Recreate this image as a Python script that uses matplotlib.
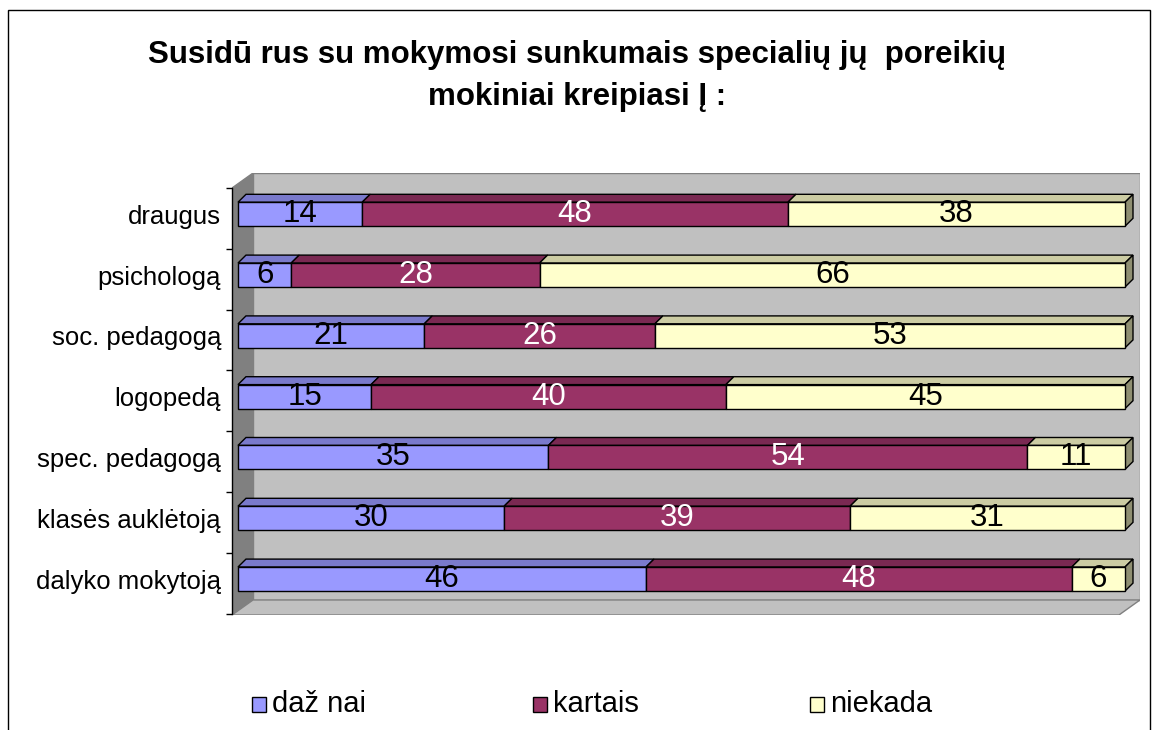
#stacked 3D-style bar chart: who pupils with learning difficulties turn to

#import libraries
import numpy as np
import matplotlib
matplotlib.use("Agg")
import matplotlib.pyplot as plt
from matplotlib.patches import Polygon, Rectangle

#data
categories = ["dalyko mokytoją", "klasės auklėtoją", "spec. pedagogą", "logopedą",
              "soc. pedagogą", "psichologą", "draugus"]
daznai = [46, 30, 35, 15, 21, 6, 14]
kartais = [48, 39, 54, 40, 26, 28, 48]
niekada = [6, 31, 11, 45, 53, 66, 38]
series_names = ["daž nai", "kartais", "niekada"]
title = "Susidū rus su mokymosi sunkumais specialių jų  poreikių\nmokiniai kreipiasi Į :"

front_colors = ["#9999FF", "#993366", "#FFFFCC"]
top_colors = ["#7A7ACC", "#7A2952", "#CCCCA3"]
side_colors = ["#5C5C99", "#5C1F3D", "#8F8F72"]
text_colors = ["black", "white", "black"]

plt.rcParams["font.family"] = ["Liberation Sans", "DejaVu Sans"]

W, H = 1155, 730
fig = plt.figure(figsize=(W / 100, H / 100), dpi=100)

#frame around the picture
fig.patches.append(Rectangle((8 / W, -0.1), 1142 / W, 1.1 - 10 / H, transform=fig.transFigure,
                             fill=False, edgecolor="black", linewidth=1))

ax = fig.add_axes([232 / W, (H - 615) / H, 908 / W, 442 / H])
xmin, xmax = -0.676, 101.69
ymin, ymax = -0.592, 6.678
ax.set_xlim(xmin, xmax)
ax.set_ylim(ymin, ymax)

#3D depth of the walls and of the bars (data units)
wdx, wdy = 2.37, 0.247
bdx, bdy = 0.9, 0.13
bh = 0.395

#walls and floor
wall_c = "#C0C0C0"
ax.add_patch(Polygon([(xmin + wdx, ymin + wdy), (xmax, ymin + wdy), (xmax, ymax), (xmin + wdx, ymax)],
                     closed=True, facecolor=wall_c, edgecolor="#808080", linewidth=1, zorder=0))
ax.add_patch(Polygon([(xmin, ymin), (xmin + wdx, ymin + wdy), (xmin + wdx, ymax), (xmin, ymax - wdy)],
                     closed=True, facecolor="#808080", edgecolor="#808080", linewidth=1, zorder=0))
ax.add_patch(Polygon([(xmin, ymin), (xmin + wdx, ymin + wdy), (xmax, ymin + wdy), (xmax - wdx, ymin)],
                     closed=True, facecolor=wall_c, edgecolor="#808080", linewidth=1, zorder=0))

#bars
y = np.arange(len(categories))
left = np.zeros(len(categories))
all_series = [daznai, kartais, niekada]
for k, vals in enumerate(all_series):
    vals = np.array(vals, dtype=float)
    ax.barh(y, vals, height=bh, left=left, color=front_colors[k],
            edgecolor="black", linewidth=1, zorder=3, label=series_names[k])
    for yi, l, v in zip(y, left, vals):
        top = yi + bh / 2
        ax.add_patch(Polygon([(l, top), (l + bdx, top + bdy), (l + v + bdx, top + bdy), (l + v, top)],
                             closed=True, facecolor=top_colors[k], edgecolor="black",
                             linewidth=1, zorder=2))
        if k == len(all_series) - 1:
            r = l + v
            ax.add_patch(Polygon([(r, yi - bh / 2), (r + bdx, yi - bh / 2 + bdy), (r + bdx, top + bdy), (r, top)],
                                 closed=True, facecolor=side_colors[k], edgecolor="black",
                                 linewidth=1, zorder=2))
        ax.text(l + v / 2, yi, str(int(v)), ha="center", va="center",
                fontsize=22.5, color=text_colors[k], zorder=4)
    left = left + vals

#axis
for s in ["top", "right", "bottom"]:
    ax.spines[s].set_visible(False)
ax.spines["left"].set_bounds(ymin + 0.02, ymax - wdy)
ax.spines["left"].set_linewidth(1)
ax.set_xticks([])
ax.set_yticks(y)
ax.set_yticklabels(categories, fontsize=18.5)
ax.tick_params(axis="y", which="major", length=0, pad=8)
ax.set_yticks(np.arange(len(categories) + 1) - 0.57, minor=True)
ax.tick_params(axis="y", which="minor", length=4.5, width=1, direction="out")
ax.patch.set_visible(False)

#title
fig.text(0.5, (H - 76) / H, title, ha="center", va="center", fontsize=22.5,
         fontweight="bold", linespacing=1.5)

#legend
leg_x = [252, 533, 810]
for hx, c, name in zip(leg_x, front_colors, series_names):
    fig.patches.append(Rectangle((hx / W, (H - 712) / H), 14 / W, 15 / H, transform=fig.transFigure,
                                 facecolor=c, edgecolor="black", linewidth=1))
    fig.text((hx + 20) / W, (H - 704) / H, name, ha="left", va="center", fontsize=21)

plt.savefig("out.png", dpi=100)
